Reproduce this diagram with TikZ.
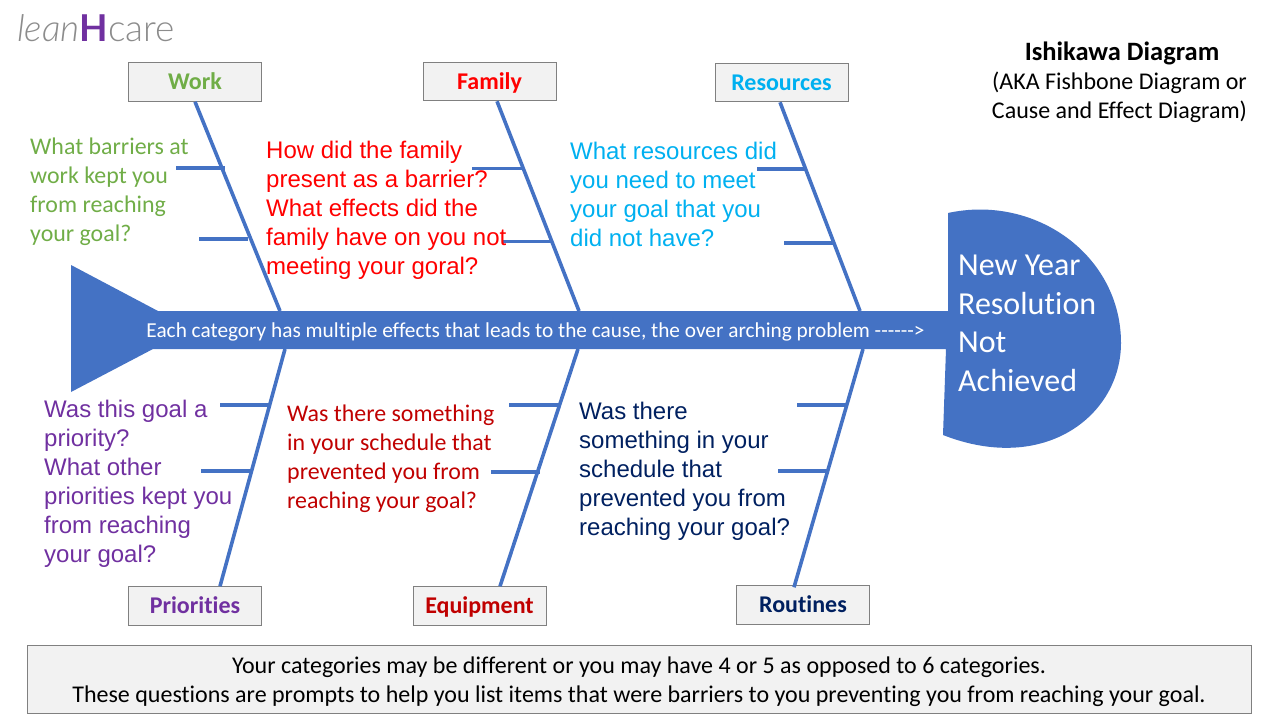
\documentclass[tikz,border=0pt]{standalone}
\usepackage{fontspec}
\setmainfont{Carlito}[Ligatures={NoCommon}]
\newfontfamily\arialfont{Liberation Sans}
\newfontfamily\logofont{Lato Light}
\newfontfamily\logoboldfont{Lato}
\usetikzlibrary{positioning}
\definecolor{fishblue}{HTML}{4472C4}
\definecolor{boxgray}{HTML}{F2F2F2}
\definecolor{workgreen}{HTML}{70AD47}
\definecolor{skyblue}{HTML}{00B0F0}
\definecolor{prioritypurple}{HTML}{7030A0}
\definecolor{darkred}{HTML}{C00000}
\definecolor{navyblue}{HTML}{002060}
\tikzset{
  catbox/.style={draw=black!50, line width=1pt, fill=boxgray, minimum width=133pt, minimum height=38.5pt, inner sep=0pt, text height=17pt, text depth=2pt, font=\fontsize{24}{28}\selectfont\bfseries},
  calibritext/.style={anchor=north west, align=left, inner sep=0pt, font=\fontsize{23.9}{29}\selectfont},
  ariatext/.style={anchor=north west, align=left, inner sep=0pt, font=\arialfont\fontsize{24}{29}\selectfont},
  bone/.style={draw=fishblue, line width=3.6pt},
  twig/.style={draw=fishblue, line width=3.6pt},
}
\begin{document}
\begin{tikzpicture}[x=1pt, y=-1pt]
		\useasboundingbox (0,0) rectangle (1280,720);
		% fish body
		\fill[fishblue] (71,265) -- (158,311) -- (948,311) -- (948,213) .. controls (1035,194) and (1121,255) .. (1121,343) .. controls (1121,415) and (1045,475) .. (943,435) -- (946,349) -- (153,349) -- (71,392) -- cycle;
		\node[inner sep=0pt, text=white, font=\fontsize{21.3}{24}\selectfont] (spinetext) at (535.5,332) {Each category has multiple effects that leads to the cause, the over arching problem -{}-{}-{}-{}-{}->};
		\node[anchor=north west, align=left, inner sep=0pt, text=white, font=\fontsize{32}{38.5}\selectfont] (headtext) at (958,255) {New Year\\Resolution\\Not\\Achieved};
%
		\node[catbox, text=workgreen] (work) at (195,82) {Work};
		\node[catbox, text=red] (family) at (489.5,81.5) {Family};
		\node[catbox, text=skyblue] (resources) at (781.5,82.5) {Resources};
		\node[catbox, text=prioritypurple] (priorities) at (195,606) {Priorities};
		\node[catbox, text=darkred] (equipment) at (479.5,606) {Equipment};
		\node[catbox, text=navyblue] (routines) at (803,605) {Routines};
%
		\coordinate (workend) at (280,311);
		\coordinate (familyend) at (579,311);
		\coordinate (resourcesend) at (860,311);
		\coordinate (prioritiesend) at (285,349);
		\coordinate (equipmentend) at (578,349);
		\coordinate (routinesend) at (863,349);
		\draw[bone] (work.south) -- (workend);
		\draw[bone] ([xshift=7.5pt]family.south) -- (familyend);
		\draw[bone] ([xshift=-1.5pt]resources.south) -- (resourcesend);
		\draw[bone] ([xshift=25pt]priorities.north) -- (prioritiesend);
		\draw[bone] ([xshift=20.5pt]equipment.north) -- (equipmentend);
		\draw[bone] ([xshift=-9pt,yshift=-2pt]routines.north) -- (routinesend);
%
		\foreach \name/\xa/\xb/\yy in {worka/176/225/168, workb/199/248/239, familya/472/522/168.5, familyb/503/551/241.5, resourcesa/757/806/169, resourcesb/784/834/243, prioritiesa/220/270/405, prioritiesb/201/250/471, equipmenta/509/560/405, equipmentb/491/540/472, routinesa/797/847/405, routinesb/778/827/471} {
			\coordinate (\name L) at (\xa,\yy);
			\coordinate (\name R) at (\xb,\yy);
			\draw[twig] (\name L) -- (\name R);
		}
%
		\node[calibritext, text=workgreen] (workq) at (30,138) {What barriers at\\work kept you\\from reaching\\your goal?};
		\node[ariatext, text=red] (familyq) at (266,141) {How did the family\\present as a barrier?\\What effects did the\\family have on you not\\meeting your goral?};
		\node[ariatext, text=skyblue] (resourcesq) at (570,142) {What resources did\\you need to meet\\your goal that you\\did not have?};
		\node[ariatext, text=prioritypurple] (prioritiesq) at (44,400) {Was this goal a\\priority?\\What other\\priorities kept you\\from reaching\\your goal?};
		\node[calibritext, text=darkred] (equipmentq) at (287,405) {Was there something\\in your schedule that\\prevented you from\\reaching your goal?};
		\node[ariatext, text=navyblue] (routinesq) at (579,402) {Was there\\something in your\\schedule that\\prevented you from\\reaching your goal?};
%
		\node[align=center, inner sep=0pt, font=\fontsize{24}{29}\selectfont] (title) at (1119.5,82) {\hspace*{5pt}{\fontsize{26.5}{29}\selectfont\textbf{Ishikawa Diagram}}\\(AKA Fishbone Diagram or\\Cause and Effect Diagram)};
		\node[draw=black!50, line width=1pt, fill=boxgray, minimum width=1224pt, minimum height=68pt, inner sep=0pt, align=center, font=\fontsize{24}{29}\selectfont] (note) at (639,679) {\rule{0pt}{22pt}Your categories may be different or you may have 4 or 5 as opposed to 6 categories.\\These questions are prompts to help you list items that were barriers to you preventing you from reaching your goal.};
		\node[anchor=base west, inner sep=0pt, font=\logofont\fontsize{37}{38}\selectfont, text=black!45] (logo) at (17,41) {\textit{lean}{\logoboldfont\bfseries\color{prioritypurple}H}care};
\end{tikzpicture}
\end{document}
